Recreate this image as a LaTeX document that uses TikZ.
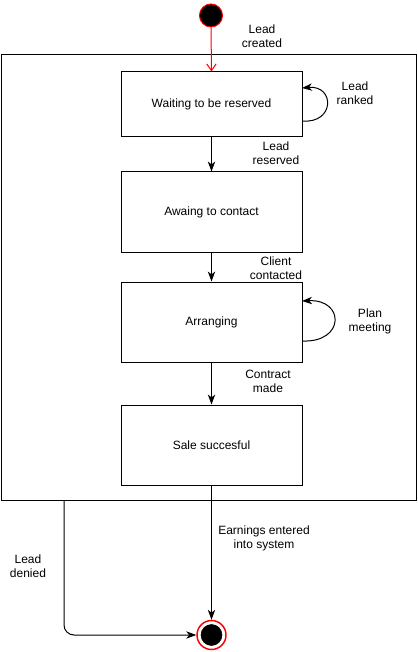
\documentclass[tikz,border=0pt]{standalone}
\usepackage{fontspec}
\setmainfont{Liberation Sans}
\usetikzlibrary{arrows.meta}
\begin{document}
\begin{tikzpicture}[x=0.75pt,y=-0.75pt,
  every node/.style={font=\fontsize{9}{10.5}\selectfont},
  statebox/.style={draw,line width=0.75pt,minimum width=181*0.75pt,inner sep=0pt,align=center},
  lbl/.style={align=center,inner sep=0pt},
  conn/.style={draw,line width=0.75pt,-{Stealth[length=7.5pt,width=5.5pt,inset=2.2pt]}},
  ]
\useasboundingbox (0,0) rectangle (417,652);
% container
\node[draw,line width=0.75pt,minimum width=415*0.75pt,minimum height=445*0.75pt,inner sep=0pt] (cont) at (208.5,277.5) {};
% start
\node[circle,draw=red,fill=black,line width=0.75pt,minimum size=23*0.75pt,inner sep=0pt] (start) at (211,15.5) {};
% states
\node[statebox,minimum height=65*0.75pt] (s1) at (211.5,104.5) {Waiting to be reserved};
\node[statebox,minimum height=80*0.75pt] (s2) at (211.5,212) {Awaing to contact};
\node[statebox,minimum height=80*0.75pt] (s3) at (211.5,322) {Arranging};
\node[statebox,minimum height=80*0.75pt] (s4) at (211.5,445) {Sale succesful};
% end
\node[circle,draw=red,line width=1.1pt,minimum size=29*0.75pt,inner sep=0pt] (end) at (211.5,635) {};
\node[circle,fill=black,draw=black,minimum size=21*0.75pt,inner sep=0pt] (endin) at (211.5,635) {};
% connectors
\draw[red,line width=0.75pt,-{Straight Barb[length=5pt,width=7pt]}] (start.south) -- (s1.north);
\draw[conn] (s1.south) -- (s2.north);
\draw[conn] (s2.south) -- (s3.north);
\draw[conn] (s3.south) -- (s4.north);
\draw[conn] (s4.south) -- (end.north);
\coordinate (c1a) at (302,121);
\coordinate (c1b) at (302,88);
\draw[conn] (c1a) .. controls (335,124) and (335,85) .. (c1b);
\coordinate (c3a) at (302,341);
\coordinate (c3b) at (302,301);
\draw[conn] (c3a) .. controls (345,343) and (345,299) .. (c3b);
\coordinate (dn) at (64,500);
\draw[conn,rounded corners=7.5pt] (dn) |- (end.west);
% labels
\node[lbl] (l1) at (262,36) {Lead\\created};
\node[lbl] (l2) at (355,93) {Lead\\ranked};
\node[lbl] (l3) at (276,153) {Lead\\reserved};
\node[lbl] (l4) at (276,268) {Client\\contacted};
\node[lbl] (l5) at (370,321) {Plan\\meeting};
\node[lbl] (l6) at (268,381) {Contract\\made};
\node[lbl] (l7) at (264,538) {Earnings entered\\into system};
\node[lbl] (l8) at (28,566) {Lead\\denied};
\end{tikzpicture}
\end{document}
